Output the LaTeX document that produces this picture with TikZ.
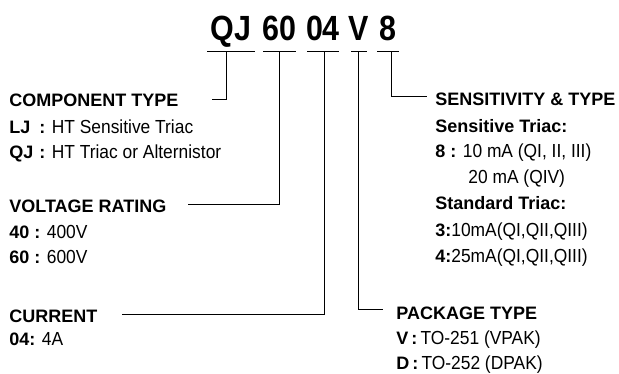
\documentclass[tikz,border=0pt]{standalone}
\usepackage{fontspec}
\setmainfont{Liberation Sans}[UprightFeatures={Scale=1.05,FakeStretch=0.92}]
\newfontfamily\titlefont[FakeStretch=0.87]{Liberation Sans}

\begin{document}
\begin{tikzpicture}[x=1pt,y=-1pt,line width=0.8pt]
 \useasboundingbox (0,0) rectangle (619,373);
 \tikzstyle{every node} = [anchor=base west,inner sep=0pt,font=\fontsize{18}{20}\selectfont]
 \tikzstyle{code} = [anchor=base,font=\titlefont\bfseries\fontsize{35}{40}\selectfont]
 % part number
 \node[code] (tQJ) at (231,40) {QJ};
 \node[code] (t60) at (279.5,40) {60};
 \node[code] (t04) at (323,40) {04};
 \node[code] (tV) at (359,40) {V};
 \node[code] (t8) at (388,40) {8};
 \draw (207,51) -- (255,51);
 \draw (263,51) -- (296,51);
 \draw (307,51) -- (339,51);
 \draw (351,51) -- (367,51);
 \draw (377,51) -- (399,51);
 % left column
 \node (comp) at (9,106) {\bfseries COMPONENT TYPE};
 \node (lj) at (9,133) {\makebox[30pt][l]{\bfseries LJ}\textbf{:} HT Sensitive Triac};
 \node (qj) at (9,158) {\makebox[30pt][l]{\bfseries QJ}\textbf{:} HT Triac or Alternistor};
 \node (volt) at (9,212) {\bfseries VOLTAGE RATING};
 \node (v40) at (9,238) {\textbf{40 :} 400V};
 \node (v60) at (9,263) {\textbf{60 :} 600V};
 \node (curr) at (9,322) {\bfseries CURRENT};
 \node (c04) at (9,345) {\textbf{04:} 4A};
 % right column
 \node (sens) at (435,105) {\bfseries SENSITIVITY \& TYPE};
 \node (sensTri) at (435,132) {\bfseries Sensitive Triac:};
 \node (s8) at (435,157) {\textbf{8 :} 10 mA (QI, II, III)};
 \node (s8b) at (468,183) {20 mA (QIV)};
 \node (stdTri) at (435,209) {\bfseries Standard Triac:};
 \node (s3) at (435,236) {\textbf{3:}10mA(QI,QII,QIII)};
 \node (s4) at (435,262) {\textbf{4:}25mA(QI,QII,QIII)};
 \node (pack) at (396,319) {\bfseries PACKAGE TYPE};
 \node (pV) at (396,344) {\textbf{V\,:}\,TO-251 (VPAK)};
 \node (pD) at (396,369) {\textbf{D\,:}\,TO-252 (DPAK)};
 % leaders
 \coordinate (qjTap) at (226,51);
 \coordinate (voltTap) at (279,51);
 \coordinate (currTap) at (324,51);
 \coordinate (packTap) at (358,51);
 \coordinate (sensTap) at (391,51);
 \coordinate (compEnd) at (212,99);
 \coordinate (voltEnd) at (188,204);
 \coordinate (currEnd) at (122,314);
 \coordinate (packEnd) at (383,309);
 \coordinate (sensEnd) at (427,96);
 \draw (qjTap) |- (compEnd);
 \draw (voltTap) |- (voltEnd);
 \draw (currTap) |- (currEnd);
 \draw (packTap) |- (packEnd);
 \draw (sensTap) |- (sensEnd);
\end{tikzpicture}
\end{document}
